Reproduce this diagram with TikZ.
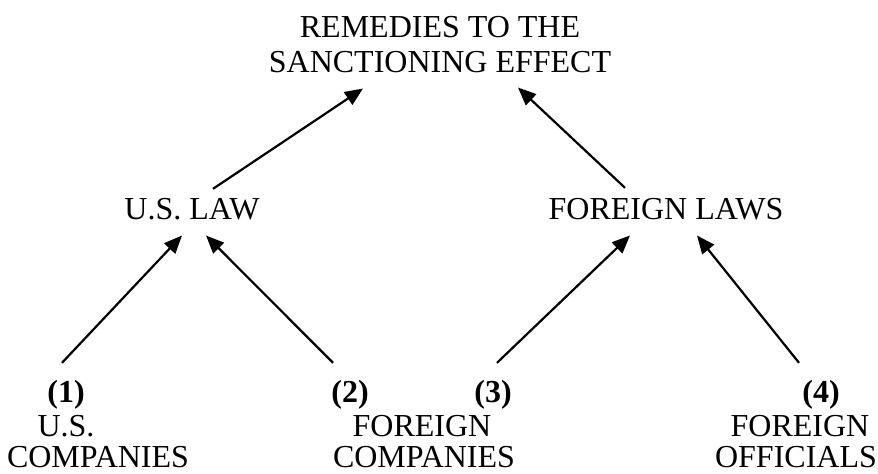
\documentclass[tikz,border=0pt]{standalone}
\usepackage{fontspec}
\setmainfont{Liberation Serif}
\usetikzlibrary{arrows.meta,calc}
\begin{document}
\begin{tikzpicture}[x=0.5pt,y=-0.5pt,
  lbl/.style={inner sep=0pt,outer sep=0pt,font=\fontsize{16}{17.5}\selectfont},
  num/.style={lbl,font=\fontsize{16}{17.5}\selectfont\bfseries},
  arr/.style={line width=1.1pt,-{Triangle[length=9pt,width=7.5pt]}}]
\useasboundingbox (0,0) rectangle (878,473);
% title
\node[lbl,align=center,anchor=north] (title) at (440,16) {REMEDIES TO THE\\SANCTIONING EFFECT};
% middle level
\node[lbl,anchor=base] (usl) at (192,219) {U.S. LAW};
\node[lbl,anchor=base] (fl) at (666,219) {FOREIGN LAWS};
% bottom level
\node[num,anchor=base] (n1) at (66,402) {(1)};
\node[lbl,anchor=base] (b1a) at (66,436) {U.S.};
\node[lbl,anchor=base] (b1b) at (98,467) {COMPANIES};
\node[num,anchor=base] (n2) at (350,402) {(2)};
\node[lbl,anchor=base] (b2a) at (422,436) {FOREIGN};
\node[lbl,anchor=base] (b2b) at (424,467) {COMPANIES};
\node[num,anchor=base] (n3) at (493,402) {(3)};
\node[num,anchor=base] (n4) at (821,402) {(4)};
\node[lbl,anchor=base] (b4a) at (800,436) {FOREIGN};
\node[lbl,anchor=base] (b4b) at (796,467) {OFFICIALS};
% connectors
\draw[arr] ($(usl.north)+(21,-9)$) -- ($(title.south)+(-77,16)$);
\draw[arr] ($(fl.north)+(-41,-10)$) -- ($(title.south)+(78,15)$);
\draw[arr] ($(n1.north)+(-4,-17)$) -- ($(usl.south)+(-10,16)$);
\draw[arr] ($(n2.north)+(-17,-17)$) -- ($(usl.south)+(14,16)$);
\draw[arr] ($(n3.north)+(4,-17)$) -- ($(fl.south)+(-36,16)$);
\draw[arr] ($(n4.north)+(-22,-17)$) -- ($(fl.south)+(31,16)$);
\end{tikzpicture}
\end{document}
